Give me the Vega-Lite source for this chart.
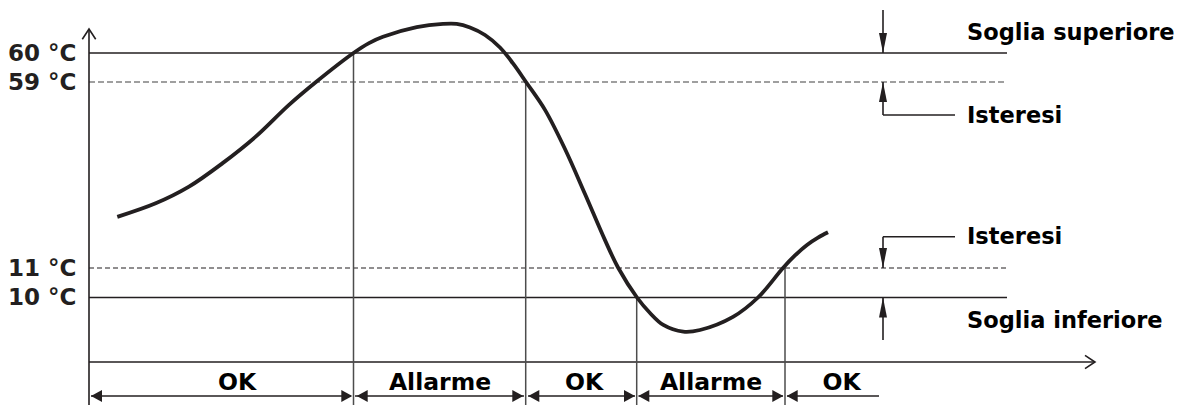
{
  "$schema": "https://vega.github.io/schema/vega-lite/v6.json",
  "width": 1094,
  "height": 405,
  "autosize": "none",
  "padding": {"left": 89, "right": 0, "top": 0, "bottom": 0},
  "background": "white",
  "config": {"view": {"stroke": null}, "font": "DejaVu Sans"},
  "datasets": {
    "curve": [
      {"t": 28.3, "T": 24.2}, {"t": 66.7, "T": 27.7}, {"t": 100, "T": 32.0}, {"t": 133.3, "T": 38.0},
      {"t": 166.7, "T": 44.9}, {"t": 200, "T": 53.1}, {"t": 227, "T": 59.0}, {"t": 264.5, "T": 60.0},
      {"t": 280, "T": 63.3}, {"t": 294, "T": 65.4}, {"t": 327.7, "T": 68.6}, {"t": 354, "T": 69.7},
      {"t": 367.7, "T": 69.7}, {"t": 381, "T": 68.5}, {"t": 396, "T": 66.0}, {"t": 411, "T": 61.83},
      {"t": 424, "T": 59.64}, {"t": 437, "T": 59.0}, {"t": 456, "T": 51.8}, {"t": 476, "T": 41.7},
      {"t": 496, "T": 30.1}, {"t": 516, "T": 18.2}, {"t": 529.3, "T": 11.0},
      {"t": 548, "T": 10.0}, {"t": 561, "T": 7.6}, {"t": 574.3, "T": 5.74}, {"t": 594.3, "T": 4.7},
      {"t": 611, "T": 4.96}, {"t": 644, "T": 7.0}, {"t": 669, "T": 10.0}, {"t": 694, "T": 11.0},
      {"t": 706, "T": 14.23}, {"t": 718, "T": 16.94}, {"t": 729, "T": 18.82}, {"t": 739, "T": 20.21}
    ],
    "hrules": [
      {"t": 0, "t2": 918, "T": 60, "k": "solid"},
      {"t": 0, "t2": 918, "T": 10, "k": "solid"},
      {"t": 0, "t2": 918, "T": 59, "k": "dash59"},
      {"t": 0, "t2": 918, "T": 11, "k": "dash11"},
      {"t": 0, "t2": 1006, "T": 0, "k": "axis"},
      {"t": 794, "t2": 866, "T": 50.48, "k": "axis"},
      {"t": 794, "t2": 866, "T": 19.08, "k": "axis"},
      {"t": 2, "t2": 262, "T": -5.27, "k": "axis"},
      {"t": 266, "t2": 435, "T": -5.27, "k": "axis"},
      {"t": 439, "t2": 546, "T": -5.27, "k": "axis"},
      {"t": 549.5, "t2": 694, "T": -5.27, "k": "axis"},
      {"t": 698, "t2": 790, "T": -5.27, "k": "axis"}
    ],
    "vrules": [
      {"t": 0, "T": 68, "T2": -7, "k": "axis"},
      {"t": 264.5, "T": 60, "T2": -7, "k": "vert"},
      {"t": 436.7, "T": 59, "T2": -7, "k": "vert"},
      {"t": 547.7, "T": 10, "T2": -7, "k": "vert"},
      {"t": 696, "T": 11, "T2": -7, "k": "vert"},
      {"t": 794, "T": 74.33, "T2": 60, "k": "axis"},
      {"t": 794, "T": 59, "T2": 50.48, "k": "axis"},
      {"t": 794, "T": 19.08, "T2": 11, "k": "axis"},
      {"t": 794, "T": 10, "T2": 3.41, "k": "axis"}
    ],
    "heads": [
      {"t": 794, "T": 60, "dir": "down"},
      {"t": 794, "T": 11, "dir": "down"},
      {"t": 794, "T": 59, "dir": "up"},
      {"t": 794, "T": 10, "dir": "up"},
      {"t": 263.3, "T": -5.27, "dir": "right"},
      {"t": 434.3, "T": -5.27, "dir": "right"},
      {"t": 546, "T": -5.27, "dir": "right"},
      {"t": 694.3, "T": -5.27, "dir": "right"},
      {"t": 2, "T": -5.27, "dir": "left"},
      {"t": 267.7, "T": -5.27, "dir": "left"},
      {"t": 439.3, "T": -5.27, "dir": "left"},
      {"t": 549.3, "T": -5.27, "dir": "left"},
      {"t": 697.7, "T": -5.27, "dir": "left"},
      {"t": 0, "T": 68, "dir": "cup"},
      {"t": 1006, "T": 0, "dir": "cright"}
    ],
    "sidetext": [
      {"t": 878, "T": 66.6, "label": "Soglia superiore"},
      {"t": 878, "T": 50.2, "label": "Isteresi"},
      {"t": 878, "T": 19.1, "label": "Isteresi"},
      {"t": 878, "T": 6.36, "label": "Soglia inferiore"}
    ],
    "states": [
      {"t": 148, "T": -3.26, "label": "OK"},
      {"t": 351, "T": -3.26, "label": "Allarme"},
      {"t": 495, "T": -3.26, "label": "OK"},
      {"t": 622, "T": -3.26, "label": "Allarme"},
      {"t": 752.5, "T": -3.26, "label": "OK"}
    ]
  },
  "encoding": {
    "x": {"field": "t", "type": "quantitative", "axis": null,
          "scale": {"domain": [0, 1094], "nice": false, "zero": false}},
    "y": {"field": "T", "type": "quantitative",
          "scale": {"domain": [-10, 0, 10, 11, 59, 60, 70], "range": [426.5, 362, 297.5, 268, 82, 53, 23], "nice": false, "zero": false},
          "axis": {"values": [10, 11, 59, 60], "labelExpr": "datum.value + ' °C'", "ticks": false, "grid": false, "domain": false,
                   "labelFont": "DejaVu Sans", "labelFontSize": 23, "labelFontWeight": "bold", "labelColor": "#231f20",
                   "labelPadding": 13, "title": null, "labelOverlap": false, "labelBound": false, "labelFlush": false}}
  },
  "layer": [
    {"data": {"name": "hrules"}, "transform": [{"filter": "datum.k == 'solid'"}],
     "mark": {"type": "rule", "color": "#231f20", "strokeWidth": 1.7},
     "encoding": {"x2": {"field": "t2"}}},
    {"data": {"name": "hrules"}, "transform": [{"filter": "datum.k == 'dash59'"}],
     "mark": {"type": "rule", "color": "#808080", "strokeWidth": 1.6, "strokeDash": [6, 3]},
     "encoding": {"x2": {"field": "t2"}}},
    {"data": {"name": "hrules"}, "transform": [{"filter": "datum.k == 'dash11'"}],
     "mark": {"type": "rule", "color": "#231f20", "strokeWidth": 1.2, "strokeDash": [5, 3]},
     "encoding": {"x2": {"field": "t2"}}},
    {"data": {"name": "hrules"}, "transform": [{"filter": "datum.k == 'axis'"}],
     "mark": {"type": "rule", "color": "#231f20", "strokeWidth": 1.6},
     "encoding": {"x2": {"field": "t2"}}},
    {"data": {"name": "vrules"}, "transform": [{"filter": "datum.k == 'vert'"}],
     "mark": {"type": "rule", "color": "#4d4d4d", "strokeWidth": 1.5},
     "encoding": {"y2": {"field": "T2"}}},
    {"data": {"name": "vrules"}, "transform": [{"filter": "datum.k == 'axis'"}],
     "mark": {"type": "rule", "color": "#231f20", "strokeWidth": 1.6},
     "encoding": {"y2": {"field": "T2"}}},
    {"data": {"name": "curve"},
     "mark": {"type": "line", "color": "#231f20", "strokeWidth": 3.8, "interpolate": "catmull-rom", "strokeCap": "butt"}},
    {"data": {"name": "heads"}, "transform": [{"filter": "datum.dir == 'down'"}],
     "mark": {"type": "point", "filled": true, "color": "#231f20", "opacity": 1, "size": 1600, "shape": "M0,0L-0.2,-1L0.2,-1Z"}},
    {"data": {"name": "heads"}, "transform": [{"filter": "datum.dir == 'up'"}],
     "mark": {"type": "point", "filled": true, "color": "#231f20", "opacity": 1, "size": 1600, "shape": "M0,0L-0.2,1L0.2,1Z"}},
    {"data": {"name": "heads"}, "transform": [{"filter": "datum.dir == 'right'"}],
     "mark": {"type": "point", "filled": true, "color": "#231f20", "opacity": 1, "size": 484, "shape": "M0,0L-1,-0.55L-1,0.55Z"}},
    {"data": {"name": "heads"}, "transform": [{"filter": "datum.dir == 'left'"}],
     "mark": {"type": "point", "filled": true, "color": "#231f20", "opacity": 1, "size": 484, "shape": "M0,0L1,-0.55L1,0.55Z"}},
    {"data": {"name": "heads"}, "transform": [{"filter": "datum.dir == 'cup'"}],
     "mark": {"type": "point", "filled": false, "fill": null, "color": "#231f20", "strokeWidth": 1.6, "opacity": 1, "size": 400, "shape": "M-0.67,1.03L0,0L0.67,1.03"}},
    {"data": {"name": "heads"}, "transform": [{"filter": "datum.dir == 'cright'"}],
     "mark": {"type": "point", "filled": false, "fill": null, "color": "#231f20", "strokeWidth": 1.6, "opacity": 1, "size": 400, "shape": "M-1,-0.67L0,0L-1,0.67"}},
    {"data": {"name": "sidetext"},
     "mark": {"type": "text", "align": "left", "baseline": "middle", "font": "DejaVu Sans", "fontSize": 22.5, "fontWeight": "bold", "color": "#000000"},
     "encoding": {"text": {"field": "label"}}},
    {"data": {"name": "states"},
     "mark": {"type": "text", "align": "center", "baseline": "middle", "font": "DejaVu Sans", "fontSize": 23.5, "fontWeight": "bold", "color": "#000000"},
     "encoding": {"text": {"field": "label"}}}
  ]
}
